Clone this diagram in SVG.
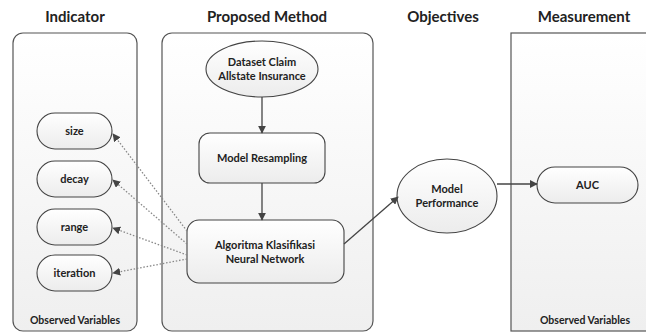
<svg xmlns="http://www.w3.org/2000/svg" width="646" height="334" viewBox="0 0 646 334">
<style>
.title{font-family:Lato,"Open Sans","Liberation Sans",sans-serif;font-weight:bold;font-size:15px;fill:#222;text-anchor:middle}
.lbl{font-family:Lato,"Open Sans","Liberation Sans",sans-serif;font-weight:bold;font-size:11px;fill:#222;text-anchor:middle}
.small{font-family:Lato,"Open Sans","Liberation Sans",sans-serif;font-weight:bold;font-size:10.5px;fill:#222;text-anchor:middle}
.panel{fill:url(#pg);stroke:#555;stroke-width:1.2}
.node{fill:url(#ng);stroke:#444;stroke-width:1.1}
.solid{stroke:#444;stroke-width:1.3;fill:none}
.dot{stroke:#888;stroke-width:1.3;stroke-dasharray:1.5 1.8;fill:none}
</style>
<defs>
<linearGradient id="pg" x1="0" y1="0" x2="0" y2="1"><stop offset="0" stop-color="#ffffff"/><stop offset="1" stop-color="#efefef"/></linearGradient>
<linearGradient id="ng" x1="0" y1="0" x2="0" y2="1"><stop offset="0" stop-color="#ffffff"/><stop offset="1" stop-color="#ececec"/></linearGradient>
<marker id="ah" viewBox="0 0 10 10" refX="9" refY="5" markerWidth="8" markerHeight="8" markerUnits="userSpaceOnUse" orient="auto"><path d="M0,0 L10,5 L0,10 z" fill="#444"/></marker>
</defs>

<text class="title" x="75" y="22">Indicator</text>
<text class="title" x="267" y="22">Proposed Method</text>
<text class="title" x="443" y="22">Objectives</text>
<text class="title" x="584" y="22">Measurement</text>

<g id="panel-indicator">
<rect class="panel" x="13" y="33" width="124" height="298" rx="10"/>
<text class="small" x="75" y="324">Observed Variables</text>
</g>
<g id="panel-proposed">
<rect class="panel" x="162" y="33" width="211" height="298" rx="10"/>
</g>
<g id="panel-measurement">
<rect class="panel" x="511" y="33" width="140" height="298"/>
<text class="small" x="585" y="324">Observed Variables</text>
</g>

<g id="n-size"><rect class="node" x="37" y="113" width="75" height="36" rx="18"/><text class="lbl" x="74.5" y="135">size</text></g>
<g id="n-decay"><rect class="node" x="37" y="161" width="75" height="36" rx="18"/><text class="lbl" x="74.5" y="183">decay</text></g>
<g id="n-range"><rect class="node" x="37" y="209" width="75" height="36" rx="18"/><text class="lbl" x="74.5" y="231">range</text></g>
<g id="n-iteration"><rect class="node" x="37" y="255" width="75" height="36" rx="18"/><text class="lbl" x="74.5" y="277">iteration</text></g>

<g id="n-dataset"><ellipse class="node" cx="262" cy="69" rx="56" ry="28"/><text class="lbl" x="262" y="66">Dataset Claim</text><text class="lbl" x="262" y="80">Allstate Insurance</text></g>
<g id="n-resampling"><rect class="node" x="199" y="133" width="126" height="50" rx="11"/><text class="lbl" x="262" y="162">Model Resampling</text></g>
<g id="n-algoritma"><rect class="node" x="187" y="220" width="157" height="63" rx="12"/><text class="lbl" x="265" y="249">Algoritma Klasifikasi</text><text class="lbl" x="265" y="263">Neural Network</text></g>

<g id="n-performance"><ellipse class="node" cx="447" cy="196" rx="50" ry="37"/><text class="lbl" x="447" y="193">Model</text><text class="lbl" x="447" y="207">Performance</text></g>
<g id="n-auc"><rect class="node" x="537" y="167" width="101" height="36" rx="18"/><text class="lbl" x="587.5" y="189">AUC</text></g>

<g id="connectors">
<line class="solid" x1="262" y1="97" x2="262" y2="133" marker-end="url(#ah)"/>
<line class="solid" x1="262" y1="183" x2="262" y2="220" marker-end="url(#ah)"/>
<line class="solid" x1="344" y1="244" x2="398" y2="197" marker-end="url(#ah)"/>
<line class="solid" x1="497" y1="184" x2="537" y2="184" marker-end="url(#ah)"/>
<line class="dot" x1="187" y1="231" x2="113" y2="134" marker-end="url(#ah)"/>
<line class="dot" x1="187" y1="244" x2="113" y2="180" marker-end="url(#ah)"/>
<line class="dot" x1="187" y1="255" x2="113" y2="228" marker-end="url(#ah)"/>
<line class="dot" x1="187" y1="259" x2="113" y2="273" marker-end="url(#ah)"/>
</g>
</svg>
